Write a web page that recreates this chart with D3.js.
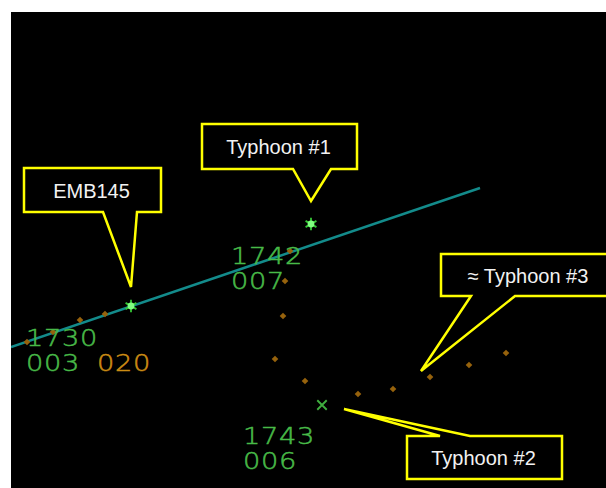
<!DOCTYPE html>
<html><head><meta charset="utf-8">
<script src="https://cdn.jsdelivr.net/npm/d3@7/dist/d3.min.js"></script>
<style>
html,body{margin:0;padding:0;background:#fff;}
svg{display:block;}
</style></head>
<body>
<svg id="c" width="606" height="488"></svg>
<script>
// ---- data (scope units: east / north, 1 unit = 10 px) ----
const trackX = [1.1, 48.0];
const trackY = [13.3, 29.2];

const targetNames = ["EMB145", "Typhoon #1", "Typhoon #2"];
const targetX = [13.1, 31.1, 32.2];
const targetY = [17.4, 25.6, 7.5];
const targetKind = ["primary", "primary", "cross"];

const historyX = [2.7, 5.3, 8.0, 10.5, 29.0, 28.5, 28.3, 27.5, 30.5, 35.8, 39.3, 43.0, 46.9, 50.6];
const historyY = [13.8, 14.8, 16.0, 16.6, 22.9, 19.9, 16.4, 12.1, 9.9, 8.6, 9.1, 10.3, 11.5, 12.7];

const blockTime = ["1730", "1742", "1743"];
const blockAlt = ["003", "007", "006"];
const blockSpeed = ["020", "", ""];

const calloutText = ["EMB145", "Typhoon #1", "≈ Typhoon #3", "Typhoon #2"];

// ---- layout ----
const svg = d3.select("#c");
const W = 606, H = 488;
const xs = d3.scaleLinear().domain([0, 60]).range([0, 600]);
const ys = d3.scaleLinear().domain([0, 48]).range([480, 0]);

svg.append("defs").append("clipPath").attr("id", "scope")
  .append("rect").attr("x", 11).attr("y", 12).attr("width", W - 11).attr("height", H - 12);
svg.append("rect").attr("x", 11).attr("y", 12).attr("width", W - 11).attr("height", H - 12).attr("fill", "#000");

const g = svg.append("g").attr("clip-path", "url(#scope)");

// track line
const line = d3.line().x(d => xs(d[0])).y(d => ys(d[1]));
g.append("path").datum(trackX.map((x, i) => [x, trackY[i]]))
  .attr("d", line).attr("fill", "none").attr("stroke", "#138b8b").attr("stroke-width", 2.5);

// history dots
g.selectAll("path.hist").data(historyX.map((x, i) => [x, historyY[i]])).join("path")
  .attr("class", "hist")
  .attr("d", d3.symbol(d3.symbolSquare, 22))
  .attr("transform", d => `translate(${xs(d[0])},${ys(d[1])}) rotate(45)`)
  .attr("fill", "#96620c");

// targets
targetX.forEach((tx, i) => {
  const px = xs(tx), py = ys(targetY[i]);
  const tg = g.append("g").attr("transform", `translate(${px},${py})`);
  if (targetKind[i] === "primary") {
    tg.append("path").attr("d", d3.symbol(d3.symbolAsterisk, 110)).attr("stroke", "#36c836").attr("stroke-width", 1.8).attr("fill", "none");
    tg.append("circle").attr("r", 3.4).attr("fill", "#80ff80");
  } else {
    tg.append("path").attr("d", d3.symbol(d3.symbolX, 60)).attr("stroke", "#3fae3f").attr("stroke-width", 1.9).attr("fill", "none");
  }
});

// data blocks
const blockOffset = [[-105, 40], [-80, 40], [-79, 39]];
const blockGap = [25, 25, 25];
const stretch = 1.16;
const blockFont = "'DejaVu Sans', sans-serif";
const green = "#48ba48", amber = "#cc8c14";
targetX.forEach((tx, i) => {
  const px = xs(tx) + blockOffset[i][0], py = ys(targetY[i]) + blockOffset[i][1];
  const t = g.append("g").attr("transform", `translate(${px},${py}) scale(${stretch},1)`)
    .attr("font-family", blockFont).attr("font-weight", 200).attr("font-size", 23.5)
    .attr("letter-spacing", 0.6).attr("stroke-width", 0.5);
  t.append("text").attr("x", 0).attr("y", 0).attr("fill", green).attr("stroke", green).text(blockTime[i]);
  t.append("text").attr("x", 0).attr("y", blockGap[i]).attr("fill", green).attr("stroke", green).text(blockAlt[i]);
  if (blockSpeed[i]) t.append("text").attr("x", 71 / stretch).attr("y", blockGap[i]).attr("fill", amber).attr("stroke", amber).text(blockSpeed[i]);
});

// callouts: box [x0,y0,x1,y1], pointer base [b1,b2], side, tip anchored on a mark + offset
const T = (i) => [xs(targetX[i]), ys(targetY[i])];
const Hh = (i) => [xs(historyX[i]), ys(historyY[i])];
const callouts = [
  { box: [24, 168, 161, 212], base: [103, 137], side: "bottom", anchor: T(0), off: [0, -19] },
  { box: [202, 124, 357, 169], base: [293, 331], side: "bottom", anchor: T(1), off: [0, -23] },
  { box: [441, 254, 608, 296], base: [471, 515], side: "bottom", anchor: Hh(11), off: [-9, -6] },
  { box: [407, 436, 562, 479], base: [440, 470], side: "top", anchor: T(2), off: [22, 4] }
];
callouts.forEach((c, i) => {
  const [x0, y0, x1, y1] = c.box;
  const tx = c.anchor[0] + c.off[0], ty = c.anchor[1] + c.off[1];
  const p = d3.path();
  if (c.side === "bottom") {
    p.moveTo(x0, y0); p.lineTo(x1, y0); p.lineTo(x1, y1); p.lineTo(c.base[1], y1);
    p.lineTo(tx, ty); p.lineTo(c.base[0], y1); p.lineTo(x0, y1); p.closePath();
  } else {
    p.moveTo(x0, y0); p.lineTo(c.base[0], y0); p.lineTo(tx, ty); p.lineTo(c.base[1], y0);
    p.lineTo(x1, y0); p.lineTo(x1, y1); p.lineTo(x0, y1); p.closePath();
  }
  svg.append("path").attr("d", p.toString()).attr("fill", "#000").attr("stroke", "#ffff00")
    .attr("stroke-width", 2.5).attr("stroke-linejoin", "miter");
  const cx = i === 2 ? 528 : (x0 + x1) / 2 - 1;
  svg.append("text").attr("x", cx).attr("y", (y0 + y1) / 2 + 7.5)
    .attr("text-anchor", "middle").attr("font-family", "'Liberation Sans', Arial, sans-serif")
    .attr("font-size", 20).attr("fill", "#f2f2f2").text(calloutText[i]);
});
</script>
</body></html>
